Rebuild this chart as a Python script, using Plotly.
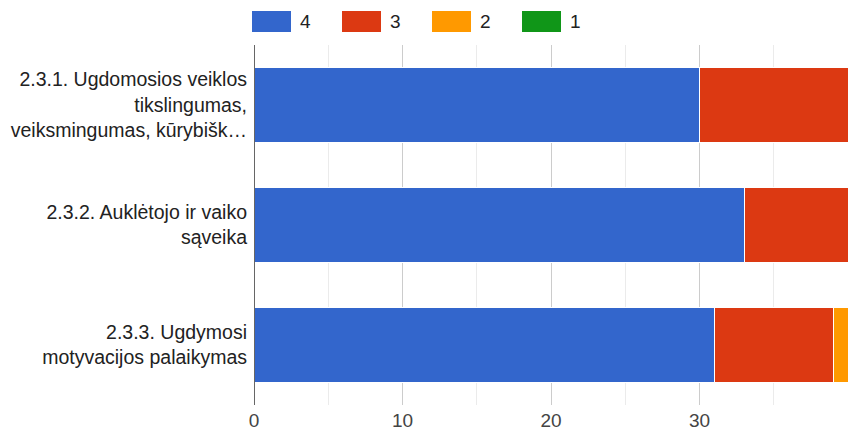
import plotly.graph_objects as go

categories = [
    "2.3.1. Ugdomosios veiklos<br>tikslingumas,<br>veiksmingumas, kūrybišk…",
    "2.3.2. Auklėtojo ir vaiko<br>sąveika",
    "2.3.3. Ugdymosi<br>motyvacijos palaikymas",
]
series_names = ["4", "3", "2", "1"]
values_4 = [30, 33, 31]
values_3 = [10, 7, 8]
values_2 = [0, 0, 1]
values_1 = [0, 0, 0]
series_values = [values_4, values_3, values_2, values_1]
colors = ["#3366cc", "#dc3912", "#ff9900", "#109618"]
x_ticks = [0, 10, 20, 30]

PLOT_W = 594.0
PLOT_H = 360.0

fig = go.Figure()
for name, vals, col in zip(series_names, series_values, colors):
    fig.add_trace(go.Bar(
        y=categories, x=vals, name=name, orientation="h",
        marker=dict(color=col, line=dict(color="white", width=1)),
        showlegend=False, hoverinfo="x+name",
    ))

# custom legend (paper coordinates, relative to plot area at x=254..848, y=45..405)
leg_x = [252, 342, 432, 522]
for lx, name, col in zip(leg_x, series_names, colors):
    fig.add_shape(type="rect", xref="paper", yref="paper",
                  x0=(lx - 254) / PLOT_W, x1=(lx + 39 - 254) / PLOT_W,
                  y0=(405 - 32) / PLOT_H, y1=(405 - 11) / PLOT_H,
                  fillcolor=col, line=dict(width=0))
    fig.add_annotation(xref="paper", yref="paper",
                       x=(lx + 46 - 254) / PLOT_W, y=(405 - 21.5) / PLOT_H,
                       text=name, showarrow=False, xanchor="left", yanchor="middle",
                       font=dict(size=19, color="#222"))

fig.update_layout(
    barmode="stack",
    bargap=0.375,
    width=848, height=433,
    margin=dict(l=254, r=0, t=45, b=28, autoexpand=False),
    paper_bgcolor="white", plot_bgcolor="white",
    font=dict(family="Liberation Sans, Arial, sans-serif", size=19, color="#222"),
    xaxis=dict(
        range=[0, 40], tickvals=x_ticks, showgrid=True, gridcolor="#cccccc",
        minor=dict(dtick=5, showgrid=True, gridcolor="#ebebeb"),
        zeroline=False, showline=False, automargin=False,
        tickfont=dict(size=19, color="#444"), ticks="", ticklabelstandoff=2,
    ),
    yaxis=dict(autorange="reversed", showgrid=False, ticks="", ticklabelstandoff=6,
               automargin=False, tickfont=dict(size=19.5, color="#222")),
)
fig.add_shape(type="line", xref="x", yref="paper", x0=0, x1=0, y0=0, y1=1,
              line=dict(color="#333333", width=1.5))

fig.write_html(
    "out.html",
    config={"displayModeBar": False},
    post_script="document.body.style.margin='0';document.body.style.overflow='hidden';",
)
